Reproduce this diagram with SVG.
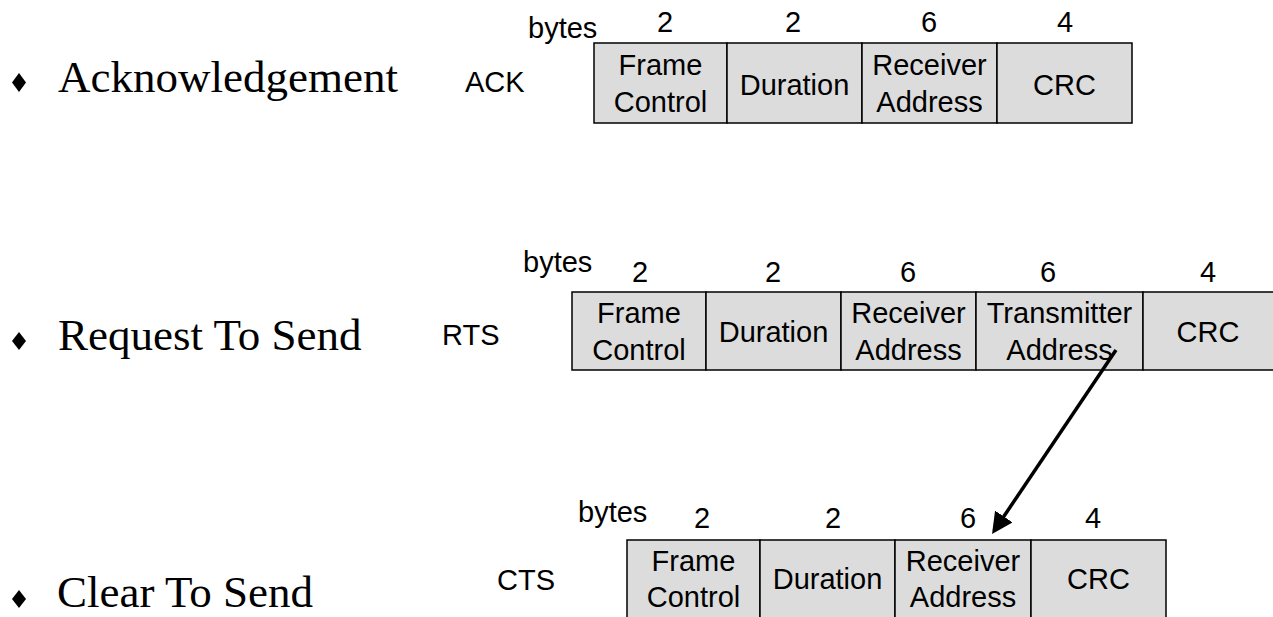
<svg xmlns="http://www.w3.org/2000/svg" width="1273" height="617" viewBox="0 0 1273 617">
<style>
.bullet{font-family:"Liberation Serif","Times New Roman",serif;font-size:45px;fill:#000}
.s{font-family:"Liberation Sans",Arial,sans-serif;font-size:29px;fill:#000}
.m{text-anchor:middle}
.cell{fill:#dcdcdc;stroke:#000;stroke-width:1.5}
.dia{fill:#000}
</style>
<defs>
<marker id="ah" markerWidth="6" markerHeight="6" refX="5" refY="3" orient="auto" markerUnits="strokeWidth">
<path d="M0,0 L6,3 L0,6 Z" fill="#000"/>
</marker>
</defs>

<g id="bullet-ack">
<polygon class="dia" points="19,73 26,82.5 19,92 12,82.5"/>
<text class="bullet" x="58" y="92">Acknowledgement</text>
</g>
<g id="bullet-rts">
<polygon class="dia" points="19,332 26,341 19,350 12,341"/>
<text class="bullet" x="58" y="350">Request To Send</text>
</g>
<g id="bullet-cts">
<polygon class="dia" points="19,590 26,599 19,608 12,599"/>
<text class="bullet" x="57" y="607">Clear To Send</text>
</g>

<g id="ack-frame">
<text class="s" x="465" y="92">ACK</text>
<rect class="cell" x="594" y="43" width="133" height="80"/>
<rect class="cell" x="727" y="43" width="135" height="80"/>
<rect class="cell" x="862" y="43" width="135" height="80"/>
<rect class="cell" x="997" y="43" width="135" height="80"/>
<text class="s" x="528" y="38">bytes</text>
<text class="s m" x="665" y="32">2</text>
<text class="s m" x="793" y="32">2</text>
<text class="s m" x="929" y="32">6</text>
<text class="s m" x="1065" y="32">4</text>
<text class="s m" x="660.5" y="75">Frame</text>
<text class="s m" x="660.5" y="112">Control</text>
<text class="s m" x="794.5" y="95">Duration</text>
<text class="s m" x="929.5" y="75">Receiver</text>
<text class="s m" x="929.5" y="112">Address</text>
<text class="s m" x="1064.5" y="95">CRC</text>
</g>

<g id="rts-frame">
<text class="s" x="442" y="345">RTS</text>
<rect class="cell" x="572" y="292" width="134" height="78"/>
<rect class="cell" x="706" y="292" width="135" height="78"/>
<rect class="cell" x="841" y="292" width="135" height="78"/>
<rect class="cell" x="976" y="292" width="167" height="78"/>
<rect class="cell" x="1143" y="292" width="135" height="78"/>
<text class="s" x="523" y="272">bytes</text>
<text class="s m" x="640" y="282">2</text>
<text class="s m" x="773" y="282">2</text>
<text class="s m" x="908" y="282">6</text>
<text class="s m" x="1048" y="282">6</text>
<text class="s m" x="1208" y="282">4</text>
<text class="s m" x="639" y="323">Frame</text>
<text class="s m" x="639" y="360">Control</text>
<text class="s m" x="773.5" y="342">Duration</text>
<text class="s m" x="908.5" y="323">Receiver</text>
<text class="s m" x="908.5" y="360">Address</text>
<text class="s m" x="1059.5" y="323">Transmitter</text>
<text class="s m" x="1059.5" y="360">Address</text>
<text class="s m" x="1208" y="342">CRC</text>
</g>

<g id="cts-frame">
<text class="s" x="497" y="590">CTS</text>
<rect class="cell" x="627" y="540" width="133" height="80"/>
<rect class="cell" x="760" y="540" width="135" height="80"/>
<rect class="cell" x="895" y="540" width="136" height="80"/>
<rect class="cell" x="1031" y="540" width="135" height="80"/>
<text class="s" x="578" y="522">bytes</text>
<text class="s m" x="702" y="528">2</text>
<text class="s m" x="833" y="528">2</text>
<text class="s m" x="968" y="528">6</text>
<text class="s m" x="1093" y="528">4</text>
<text class="s m" x="693.5" y="571">Frame</text>
<text class="s m" x="693.5" y="607">Control</text>
<text class="s m" x="827.5" y="589">Duration</text>
<text class="s m" x="963" y="571">Receiver</text>
<text class="s m" x="963" y="607">Address</text>
<text class="s m" x="1098.5" y="589">CRC</text>
</g>

<g id="connectors">
<line x1="1116" y1="350" x2="994" y2="531" stroke="#000" stroke-width="3.5" marker-end="url(#ah)"/>
</g>
</svg>
